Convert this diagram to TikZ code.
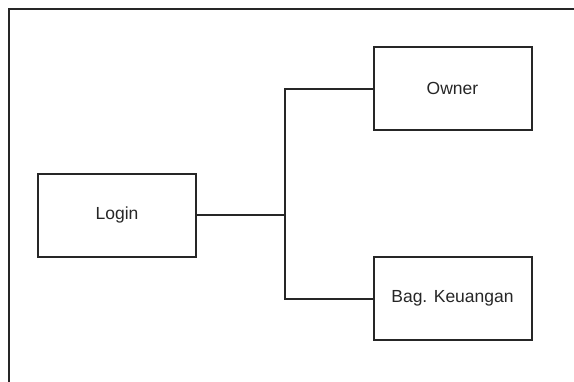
\documentclass[tikz,border=0pt]{standalone}
\usepackage{fontspec}
\setmainfont{Liberation Sans}
\begin{document}
\begin{tikzpicture}[x=1pt,y=-1pt,
  box/.style={draw=black!85,line width=2pt,minimum width=158pt,minimum height=83pt,inner sep=0pt,font=\fontsize{17.5}{20}\selectfont,text=black!85},
  conn/.style={draw=black!85,line width=2pt},
  frame/.style={draw=black!85,line width=1.6pt}]
\useasboundingbox (0,0) rectangle (574,381);
\draw[frame] (9,390) -- (9,9) -- (590,9);
\node[box] (login) at (117,215) {Login};
\node[box] (owner) at (452.5,88.5) {Owner};
\node[box] (bag) at (452.5,298.5) {Bag. Keuangan};
\coordinate (j) at (285,215);
\draw[conn] (login.east) -- (j);
\draw[conn] (owner.west) -- (owner.west -| j) -- (bag.west -| j) -- (bag.west);
\end{tikzpicture}
\end{document}
